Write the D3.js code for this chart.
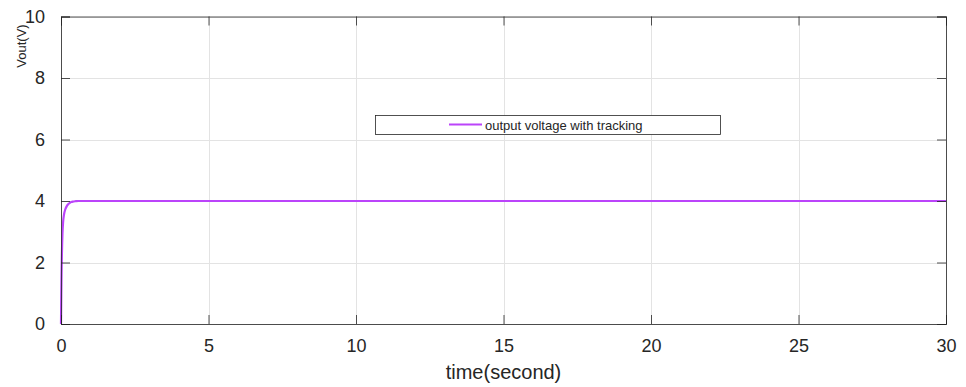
<!DOCTYPE html>
<html>
<head>
<meta charset="utf-8">
<script src="https://cdn.jsdelivr.net/npm/d3@7"></script>
<style>
  html, body { margin: 0; padding: 0; background: #fff; }
  svg { display: block; font-family: "Liberation Sans", Arial, sans-serif; }
</style>
</head>
<body>
<svg id="chart" width="966" height="387"></svg>
<script>
// Step response of the output voltage (time in seconds, volts)
const timeSec = [0, 0.005, 0.01, 0.015, 0.02, 0.03, 0.04, 0.05, 0.07, 0.1, 0.15, 0.2, 0.25, 0.3, 0.35, 0.4, 0.5, 0.6, 0.8, 1, 5, 10, 15, 20, 25, 30];
const vout    = [0, 0.5, 0.95, 1.35, 1.7, 2.25, 2.65, 2.95, 3.3, 3.55, 3.74, 3.84, 3.9, 3.94, 3.965, 3.98, 3.993, 4.0, 4.0, 4.0, 4.0, 4.0, 4.0, 4.0, 4.0, 4.0];
const xTicks = [0, 5, 10, 15, 20, 25, 30];
const yTicks = [0, 2, 4, 6, 8, 10];
const seriesName = "output voltage with tracking";

const svg = d3.select("#chart");
const plotL = 61, plotR = 946, plotT = 16.5, plotB = 324;
const x = d3.scaleLinear().domain([0, 30]).range([plotL, plotR]);
const y = d3.scaleLinear().domain([0, 10]).range([plotB, plotT]);
const axisColor = "#262626";
const lineColor = "#bb44fa";

// grid
const grid = svg.append("g");
grid.selectAll("line.gx").data(xTicks).join("line")
  .attr("x1", d => Math.round(x(d)) + 0.5).attr("x2", d => Math.round(x(d)) + 0.5)
  .attr("y1", plotT).attr("y2", plotB)
  .attr("stroke", "#e3e3e3").attr("stroke-width", 1);
grid.selectAll("line.gy").data(yTicks).join("line")
  .attr("y1", d => Math.round(y(d)) + 0.5).attr("y2", d => Math.round(y(d)) + 0.5)
  .attr("x1", plotL).attr("x2", plotR)
  .attr("stroke", "#e3e3e3").attr("stroke-width", 1);

// data line
const line = d3.line().x((d, i) => x(timeSec[i])).y(d => y(d)).curve(d3.curveMonotoneX);
svg.append("path").datum(vout)
  .attr("d", line)
  .attr("fill", "none").attr("stroke", lineColor).attr("stroke-width", 2.2);

// axes with inward ticks
const tickLen = 9;
const bottomAxis = d3.axisBottom(x).tickValues(xTicks).tickSize(-tickLen).tickPadding(tickLen + 6).tickFormat(d3.format("d"));
const leftAxis = d3.axisLeft(y).tickValues(yTicks).tickSize(-tickLen).tickPadding(tickLen + 7).tickFormat(d3.format("d"));
const topAxis = d3.axisTop(x).tickValues(xTicks).tickSize(-tickLen).tickFormat("");
const rightAxis = d3.axisRight(y).tickValues(yTicks).tickSize(-tickLen).tickFormat("");

function styleAxis(g) {
  g.select(".domain").attr("stroke", axisColor).attr("stroke-width", 0.8);
  g.selectAll(".tick line").attr("stroke", axisColor).attr("stroke-width", 0.8);
  g.selectAll(".tick text").attr("fill", axisColor).style("font-size", "18px")
    .style("font-family", "'Liberation Sans', Arial, sans-serif");
}
svg.append("g").attr("transform", `translate(0,${plotB})`).call(bottomAxis).call(styleAxis);
svg.append("g").attr("transform", `translate(${plotL},0)`).call(leftAxis).call(styleAxis);
svg.append("g").attr("transform", `translate(0,${plotT})`).call(topAxis).call(styleAxis);
svg.append("g").attr("transform", `translate(${plotR},0)`).call(rightAxis).call(styleAxis);

// axis labels
svg.append("text")
  .attr("x", (plotL + plotR) / 2).attr("y", 379)
  .attr("text-anchor", "middle").attr("fill", axisColor)
  .style("font-size", "20px")
  .text("time(second)");
svg.append("text")
  .attr("transform", "translate(26,46) rotate(-90)")
  .attr("text-anchor", "middle").attr("fill", axisColor)
  .style("font-size", "13px")
  .text("Vout(V)");

// legend
const lg = svg.append("g");
lg.append("rect").attr("x", 375.5).attr("y", 115.5).attr("width", 345).attr("height", 19)
  .attr("fill", "#fff").attr("stroke", axisColor).attr("stroke-width", 0.8);
lg.append("line").attr("x1", 449).attr("x2", 482).attr("y1", 124.5).attr("y2", 124.5)
  .attr("stroke", lineColor).attr("stroke-width", 2);
lg.append("text").attr("x", 485).attr("y", 129.5).attr("fill", axisColor)
  .style("font-size", "13px").text(seriesName);
</script>
</body>
</html>
